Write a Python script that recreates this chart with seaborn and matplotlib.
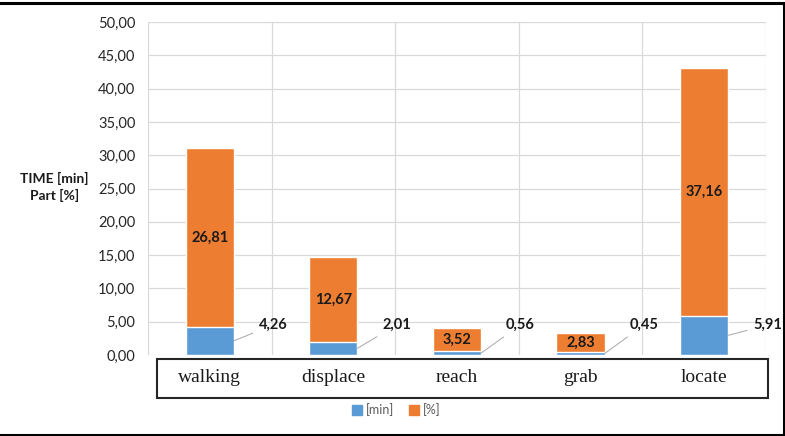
import matplotlib.pyplot as plt
import matplotlib.ticker as mticker
from matplotlib.patches import Rectangle, Patch
import pandas as pd
import seaborn as sns

categories = ['walking', 'displace', 'reach', 'grab', 'locate']
minutes = [4.26, 2.01, 0.56, 0.45, 5.91]
percent = [26.81, 12.67, 3.52, 2.83, 37.16]

blue = '#5B9BD5'
orange = '#ED7D31'

df = pd.DataFrame({'task': categories, 'min': minutes, 'pct': percent})
df['total'] = df['min'] + df['pct']

sns.set_style('white')
plt.rcParams['font.family'] = ['Lato', 'DejaVu Sans']

fig = plt.figure(figsize=(7.85, 4.36), dpi=100)
ax = fig.add_axes([0.1885, 0.1858, 0.7873, 0.7637])

# stacked bars: total in orange, minutes in blue on top of it
sns.barplot(data=df, x='task', y='total', color=orange, saturation=1,
            width=0.39, errorbar=None, ax=ax, zorder=3)
sns.barplot(data=df, x='task', y='min', color=blue, saturation=1,
            width=0.39, errorbar=None, ax=ax, zorder=3)

ax.set_ylim(0, 50)
ax.set_xlim(-0.5, len(categories) - 0.5)
ax.yaxis.set_major_locator(mticker.MultipleLocator(5))
ax.yaxis.set_major_formatter(mticker.FuncFormatter(lambda v, p: f'{v:.2f}'.replace('.', ',')))
ax.set_xticks([i + 0.5 for i in range(-1, len(categories))], minor=True)
ax.grid(True, axis='y', color='#D9D9D9', lw=0.9, zorder=0)
ax.grid(True, axis='x', which='minor', color='#D9D9D9', lw=0.9, zorder=0)
ax.grid(False, axis='x', which='major')
for s in ax.spines.values():
    s.set_visible(False)
ax.set_xlabel('')
ax.set_ylabel('')
ax.tick_params(axis='y', length=0, pad=9, labelsize=10.5, labelcolor='#262626')
ax.tick_params(axis='x', which='both', length=0, pad=10)
for t in ax.get_xticklabels():
    t.set_fontfamily('Liberation Serif')
    t.set_fontsize(14)
    t.set_color('#1a1a1a')

# box around category labels
ax.add_patch(Rectangle((0.0146, -0.129), 0.989, 0.117, transform=ax.transAxes,
                       fill=False, lw=1.5, ec='#262626', clip_on=False))

w = 0.39
for i, (m, p) in enumerate(zip(minutes, percent)):
    ax.text(i, m + p / 2, f'{p:.2f}'.replace('.', ','), ha='center', va='center',
            fontsize=10.5, fontweight='bold', color='#1a1a1a', zorder=5)
    ax.annotate(f'{m:.2f}'.replace('.', ','), xy=(i + w / 2, m / 2),
                xytext=(i + w / 2 + 0.2, 4.5), ha='left', va='center',
                fontsize=10.5, fontweight='bold', color='#1a1a1a',
                arrowprops=dict(arrowstyle='-', color='#A6A6A6', lw=0.7,
                                shrinkA=2, shrinkB=0))

fig.text(0.069, 0.571, 'TIME [min]\nPart [%]', ha='center', va='center',
         fontsize=10, fontweight='bold', color='#1a1a1a', linespacing=1.4)

handles = [Patch(color=blue, label='[min]'), Patch(color=orange, label='[%]')]
fig.legend(handles=handles, loc='center', bbox_to_anchor=(0.505, 0.06), ncol=2,
           frameon=False, fontsize=9, labelcolor='#595959', handlelength=0.8,
           handleheight=0.8, handletextpad=0.3, columnspacing=1.2)

fig.add_artist(Rectangle((-0.01, 0.003), 1.0087, 0.990, transform=fig.transFigure,
                         fill=False, lw=2.2, ec='black'))

fig.savefig('out.png', dpi=100)
